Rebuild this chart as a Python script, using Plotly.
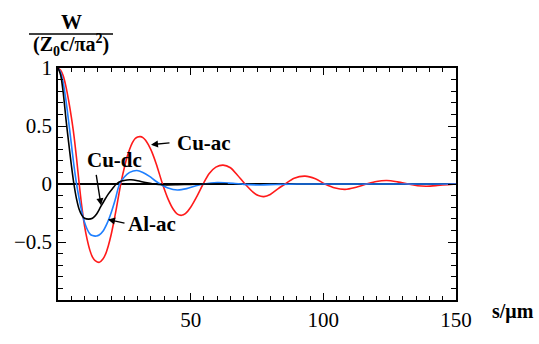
import plotly.graph_objects as go

# ---- data ----
s_cu_ac = [0, 1, 2, 3, 4, 5, 6, 7, 8, 9, 10, 11, 12, 13, 14, 15.6, 17, 18, 19, 20, 21, 22, 23, 24,
           25, 26, 27, 28, 29, 30, 31, 32, 33, 35, 37, 39.4, 41.5, 43.5, 45, 46.6, 48, 50, 52.5,
           54.7, 57, 59.5, 62.2, 65, 67.5, 70.5, 73.5, 75.5, 77.6, 80, 83, 85.6, 89, 93.1, 97,
           100.6, 104.5, 108.2, 112, 116.3, 120, 123.9, 128, 132, 135.5, 139, 143, 147, 150]
w_cu_ac = [1.0, 0.98, 0.93, 0.84, 0.72, 0.58, 0.42, 0.22, 0.0, -0.2, -0.36, -0.48, -0.57, -0.63,
           -0.66, -0.675, -0.645, -0.6, -0.53, -0.44, -0.33, -0.21, -0.08, 0.04, 0.14, 0.23, 0.3,
           0.355, 0.39, 0.405, 0.408, 0.4, 0.378, 0.296, 0.175, 0.0, -0.13, -0.22, -0.26, -0.27,
           -0.255, -0.2, -0.1, 0.0, 0.09, 0.145, 0.163, 0.14, 0.08, 0.0, -0.07, -0.1, -0.109,
           -0.09, -0.04, 0.0, 0.05, 0.068, 0.045, 0.0, -0.035, -0.046, -0.03, 0.0, 0.022, 0.03,
           0.018, 0.0, -0.015, -0.019, -0.013, -0.005, 0.0]

s_al_ac = [0, 1, 2, 3, 4, 5, 6, 7, 8, 9, 10, 11, 12, 13, 14.5, 15.5, 17, 18.5, 20, 21.5, 23.2, 25,
           27, 29.7, 32, 34.5, 36.5, 38.5, 41.5, 45, 48.5, 52, 55, 60, 66, 70, 76, 82, 90, 150]
w_al_ac = [1.0, 0.96, 0.87, 0.72, 0.54, 0.35, 0.16, 0.0, -0.13, -0.24, -0.33, -0.39, -0.43, -0.445,
           -0.449, -0.44, -0.405, -0.34, -0.25, -0.14, 0.0, 0.06, 0.1, 0.117, 0.1, 0.065, 0.03, 0.0,
           -0.035, -0.052, -0.04, -0.015, 0.0, 0.012, 0.006, -0.003, -0.008, -0.004, 0.0, 0.0]

s_cu_dc = [0, 1, 2, 3, 4, 5, 6, 7, 8, 9, 10, 11.5, 13, 14.5, 16, 17.5, 19, 20.5, 22, 24, 26, 27.5,
           30, 33, 36, 40, 45, 50, 55, 64]
w_cu_dc = [1.0, 0.94, 0.78, 0.56, 0.36, 0.17, 0.0, -0.13, -0.22, -0.27, -0.295, -0.303, -0.295,
           -0.26, -0.2, -0.14, -0.085, -0.04, 0.0, 0.025, 0.035, 0.036, 0.028, 0.012, 0.0, -0.007,
           -0.006, -0.003, 0.0, 0.0]

x_ticks = [50, 100, 150]
x_ticktext = ["50", "100", "150"]
y_ticks = [-0.5, 0, 0.5, 1]
y_ticktext = ["\u22120.5", "0", "0.5", "1"]

FONT = "Liberation Serif, Times New Roman, Times, serif"
W, H = 539, 344
L, R, T, B = 58, 456, 68, 313


def px(x):
    return (x - L) / (R - L)


def py(y):
    return (B - y) / (B - T)


fig = go.Figure()
fig.add_trace(go.Scatter(x=s_cu_ac, y=w_cu_ac, mode="lines", name="Cu-ac",
                         line=dict(color="#ff1a1a", width=1.6, shape="spline", smoothing=0.8)))
fig.add_trace(go.Scatter(x=s_al_ac, y=w_al_ac, mode="lines", name="Al-ac",
                         line=dict(color="#1e7fff", width=1.6, shape="spline", smoothing=0.8)))
fig.add_trace(go.Scatter(x=s_cu_dc, y=w_cu_dc, mode="lines", name="Cu-dc",
                         line=dict(color="black", width=1.6, shape="spline", smoothing=0.8)))

axis_common = dict(showgrid=False, showline=True, linecolor="black", linewidth=1.5,
                   mirror="allticks", ticks="inside", tickcolor="black", tickwidth=1.2,
                   tickfont=dict(family=FONT, size=21, color="black"))

fig.update_xaxes(range=[0, 150], tickmode="array", tickvals=x_ticks, ticktext=x_ticktext,
                 ticklen=7, zeroline=False,
                 minor=dict(dtick=5, tick0=0, ticklen=4, ticks="inside", tickcolor="black",
                            tickwidth=1.2, showgrid=False),
                 **axis_common)
fig.update_yaxes(range=[-1, 1], tickmode="array", tickvals=y_ticks, ticktext=y_ticktext,
                 ticklen=8, zeroline=True, zerolinecolor="black", zerolinewidth=1.5,
                 minor=dict(dtick=0.1, tick0=0, ticklen=5, ticks="inside", tickcolor="black",
                            tickwidth=1.2, showgrid=False),
                 **axis_common)

bold = dict(family=FONT, size=21, color="black")
ann = []
# y-axis title as fraction
ann.append(dict(x=px(71), y=py(19), xref="paper", yref="paper", text="<b>W</b>",
                showarrow=False, font=bold, xanchor="center", yanchor="middle"))
ann.append(dict(x=px(71), y=py(44), xref="paper", yref="paper",
                text="<b>(Z<sub>0</sub>c/\u03c0a<sup>2</sup>)</b>",
                showarrow=False, font=dict(family=FONT, size=20, color="black"),
                xanchor="center", yanchor="middle"))
# x-axis title
ann.append(dict(x=px(536), y=py(325), xref="paper", yref="paper", text="<b>s/\u03bcm</b>",
                showarrow=False, font=dict(family=FONT, size=20, color="black"),
                xanchor="right", yanchor="middle"))
# curve labels
ann.append(dict(x=px(204), y=py(147), xref="paper", yref="paper", text="<b>Cu-ac</b>",
                showarrow=False, font=bold, xanchor="center", yanchor="middle"))
ann.append(dict(x=px(114), y=py(165), xref="paper", yref="paper", text="<b>Cu-dc</b>",
                showarrow=False, font=bold, xanchor="center", yanchor="middle"))
ann.append(dict(x=px(152), y=py(233), xref="paper", yref="paper", text="<b>Al-ac</b>",
                showarrow=False, font=bold, xanchor="center", yanchor="middle"))
# arrows (head in paper coords, tail offset in px)
for hx, hy, tx, ty in [(151, 149, 171, 147), (101, 213, 96, 181), (108, 228, 126, 232)]:
    ann.append(dict(x=px(hx), y=py(hy), xref="paper", yref="paper", text="",
                    showarrow=True, ax=tx - hx, ay=ty - hy, arrowhead=2, arrowsize=1,
                    arrowwidth=1.4, arrowcolor="black", standoff=0, startstandoff=0))

fig.update_layout(
    width=W, height=H, autosize=False,
    margin=dict(l=L, r=W - R, t=T, b=H - B, pad=0),
    paper_bgcolor="white", plot_bgcolor="white",
    showlegend=False,
    annotations=ann,
    shapes=[dict(type="line", xref="paper", yref="paper", x0=px(29), x1=px(113),
                 y0=py(32), y1=py(32), line=dict(color="black", width=1.5))],
)

fig.write_html("out.html", config={"displayModeBar": False},
               post_script="document.body.style.margin='0';")
